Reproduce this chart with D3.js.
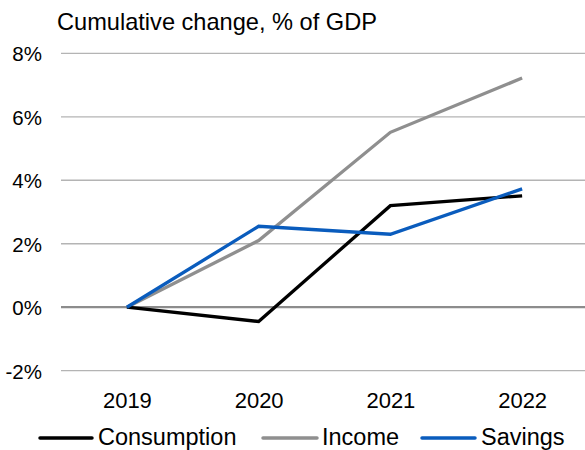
<!DOCTYPE html>
<html><head><meta charset="utf-8">
<script src="https://cdn.jsdelivr.net/npm/d3@7"></script>
<style>body{margin:0;background:#fff}svg{display:block;font-family:"Liberation Sans",Arial,sans-serif}</style>
</head><body><svg id="c" width="585" height="450"></svg>
<script>
const years = ["2019","2020","2021","2022"];
const consumption = [0, -0.45, 3.2, 3.51];
const income = [0, 2.10, 5.51, 7.22];
const savings = [0, 2.55, 2.30, 3.73];
const yTicks = [-2, 0, 2, 4, 6, 8];
const seriesNames = ["Consumption","Income","Savings"];
const colors = ["#000000","#8f8f8f","#0a5cbd"];

const svg = d3.select("#c");
const x = d3.scalePoint().domain(years).range([61, 588]).padding(0.5);
const y = d3.scaleLinear().domain([-2, 8]).range([370.7, 53.3]);

// gridlines
svg.append("g").selectAll("line").data(yTicks.filter(d=>d!==0)).join("line")
  .attr("x1",61).attr("x2",585).attr("y1",d=>y(d)).attr("y2",d=>y(d))
  .attr("stroke","#b4b4b4").attr("stroke-width",1.3);

// y labels
const yAxis = d3.axisLeft(y).tickValues(yTicks).tickFormat(d=>d+"%").tickSize(0).tickPadding(0);
const ga = svg.append("g").attr("transform","translate(42,0)").call(yAxis);
ga.select(".domain").remove();
ga.selectAll("text").attr("font-size",20.5).attr("fill","#000").attr("dy","0.36em").attr("font-family","Liberation Sans, Arial, sans-serif");

// zero line
svg.append("line").attr("x1",61).attr("x2",585).attr("y1",y(0)).attr("y2",y(0))
  .attr("stroke","#8c8c8c").attr("stroke-width",2.2);

// x labels
const xAxis = d3.axisBottom(x).tickSize(0).tickPadding(0);
const gx = svg.append("g").attr("transform","translate(0,408)").call(xAxis);
gx.select(".domain").remove();
gx.selectAll("text").attr("font-size",22).attr("fill","#000").attr("dy",0).attr("font-family","Liberation Sans, Arial, sans-serif");

// lines
const data = [consumption, income, savings];
const line = d3.line().x((d,i)=>x(years[i])).y(d=>y(d));
[1,0,2].forEach(k=>{
  svg.append("path").datum(data[k]).attr("d",line).attr("fill","none")
    .attr("stroke",colors[k]).attr("stroke-width",3.3).attr("stroke-linejoin","miter");
});

// title
svg.append("text").attr("x",57).attr("y",30).attr("font-size",23.6).text("Cumulative change, % of GDP");

// legend
const legX = [40, 263, 422];
const legW = [52, 54, 53];
const legT = [98, 322, 481];
seriesNames.forEach((n,i)=>{
  svg.append("line").attr("x1",legX[i]).attr("x2",legX[i]+legW[i]).attr("y1",438).attr("y2",438)
    .attr("stroke",colors[i]).attr("stroke-width",3.5).attr("stroke-linecap","round");
  svg.append("text").attr("x",legT[i]).attr("y",445).attr("font-size",23.5).text(n);
});
</script></body></html>
